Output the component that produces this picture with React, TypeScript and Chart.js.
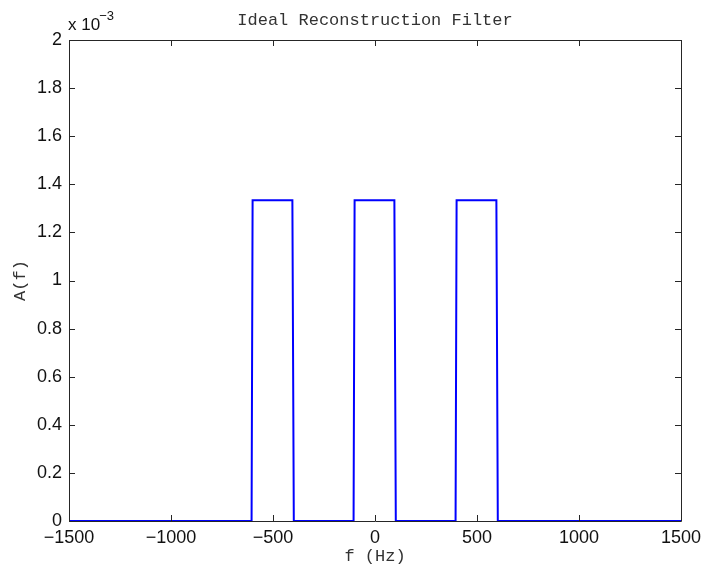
import React, { useEffect, useRef } from "react";
import { Chart, registerables } from "chart.js";

Chart.register(...registerables);

const frequencies = [-1500, -605, -600, -405, -398, -105, -100, 95, 102, 395, 400, 595, 602, 1500];
const amplitudes = [0, 0, 1.3333e-3, 1.3333e-3, 0, 0, 1.3333e-3, 1.3333e-3, 0, 0, 1.3333e-3, 1.3333e-3, 0, 0];
const titleText = "Ideal Reconstruction Filter";
const xLabel = "f (Hz)";
const yLabel = "A(f)";

const MONO = '"Courier New", "Liberation Mono", "DejaVu Sans Mono", monospace';
const SANS = 'Arial, "Liberation Sans", Helvetica, sans-serif';

const framePlugin = {
  id: "matlabFrame",
  afterDraw(chart: any) {
    const ctx = chart.ctx;
    const { left, right, top, bottom } = chart.chartArea;
    const xs = chart.scales.x;
    const ys = chart.scales.y;
    ctx.save();
    ctx.strokeStyle = "#262626";
    ctx.lineWidth = 1;
    ctx.beginPath();
    ctx.rect(Math.round(left) + 0.5, Math.round(top) + 0.5, Math.round(right - left), Math.round(bottom - top));
    ctx.stroke();
    const tl = 6;
    ctx.beginPath();
    xs.ticks.forEach((t: any) => {
      const px = Math.round(xs.getPixelForValue(t.value)) + 0.5;
      ctx.moveTo(px, bottom);
      ctx.lineTo(px, bottom - tl);
      ctx.moveTo(px, top);
      ctx.lineTo(px, top + tl);
    });
    ys.ticks.forEach((t: any) => {
      const py = Math.round(ys.getPixelForValue(t.value)) + 0.5;
      ctx.moveTo(left, py);
      ctx.lineTo(left + tl, py);
      ctx.moveTo(right, py);
      ctx.lineTo(right - tl, py);
    });
    ctx.stroke();

    // title
    ctx.fillStyle = "#333333";
    ctx.font = `17px ${MONO}`;
    ctx.textAlign = "center";
    ctx.textBaseline = "middle";
    ctx.fillText(titleText, (left + right) / 2, 20);
    // x label
    ctx.fillText(xLabel, (left + right) / 2, 556);
    // y label
    ctx.save();
    ctx.translate(20, (top + bottom) / 2);
    ctx.rotate(-Math.PI / 2);
    ctx.fillText(yLabel, 0, 0);
    ctx.restore();

    // exponent
    ctx.fillStyle = "#111111";
    ctx.textAlign = "left";
    ctx.textBaseline = "alphabetic";
    ctx.font = `17px ${SANS}`;
    ctx.fillText("x 10", 68, 30);
    const w = ctx.measureText("x 10").width;
    ctx.font = `13px ${SANS}`;
    ctx.fillText("\u22123", 68 + w - 1, 20);
    ctx.restore();
  },
};

export default function App() {
  const ref = useRef<HTMLCanvasElement | null>(null);
  useEffect(() => {
    document.body.style.margin = "0";
    const data = frequencies.map((f, i) => ({ x: f, y: amplitudes[i] }));
    const chart = new Chart(ref.current as HTMLCanvasElement, {
      type: "line",
      data: {
        datasets: [
          {
            data,
            borderColor: "#0000ff",
            borderWidth: 2,
            pointRadius: 0,
            fill: false,
            tension: 0,
          },
        ],
      },
      options: {
        animation: false,
        responsive: false,
        maintainAspectRatio: false,
        layout: { padding: { left: 0, right: 21, top: 40, bottom: 0 } },
        plugins: { legend: { display: false }, tooltip: { enabled: false }, title: { display: false } },
        scales: {
          x: {
            type: "linear",
            min: -1500,
            max: 1500,
            grid: { display: false, drawTicks: false },
            border: { display: false },
            ticks: {
              stepSize: 500,
              padding: 6,
              color: "#111111",
              font: { family: SANS, size: 18 },
              maxRotation: 0,
              callback: (v: any) => (Number(v) < 0 ? "\u2212" + Math.abs(Number(v)) : String(v)),
            },
            afterFit: (s: any) => {
              s.height = 45;
              s.paddingLeft = 0;
              s.paddingRight = 0;
            },
          },
          y: {
            type: "linear",
            min: 0,
            max: 0.002,
            grid: { display: false, drawTicks: false },
            border: { display: false },
            ticks: {
              stepSize: 0.0002,
              padding: 7,
              color: "#111111",
              font: { family: SANS, size: 18 },
              callback: (v: any) => String(Math.round(Number(v) * 10000) / 10),
            },
            afterFit: (s: any) => {
              s.width = 69;
              s.paddingTop = 0;
              s.paddingBottom = 0;
            },
          },
        },
      },
      plugins: [framePlugin],
    });
    return () => chart.destroy();
  }, []);
  return (
    <div style={{ width: 702, height: 566, background: "#fff" }}>
      <canvas ref={ref} width={702} height={566} style={{ display: "block" }} />
    </div>
  );
}
